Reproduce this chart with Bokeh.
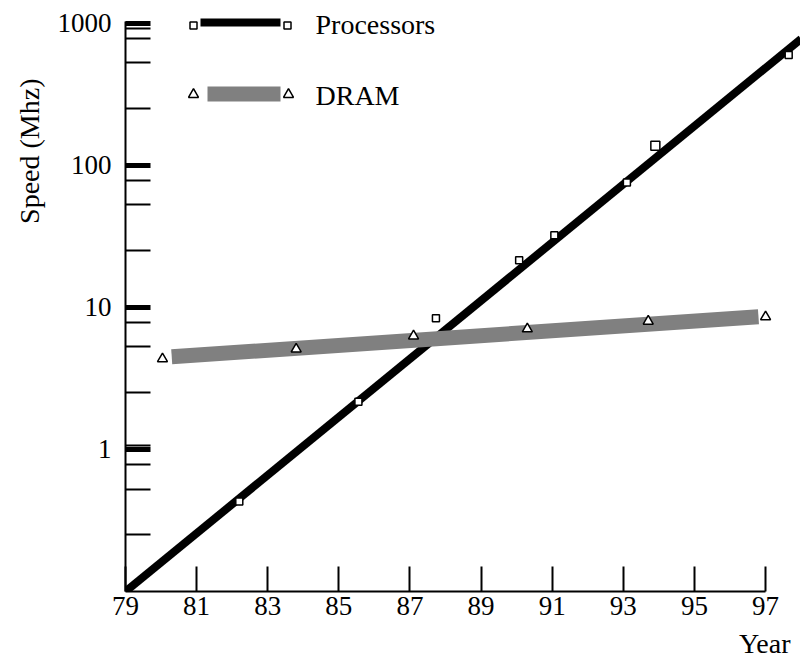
from bokeh.plotting import figure
from bokeh.models import Range1d, FixedTicker, BasicTickFormatter, LinearScale, Label, Title
from bokeh.embed import file_html
from bokeh.resources import INLINE

# ---- data ----
proc_years = [82.2, 85.55, 87.73, 90.07, 91.06, 93.1, 93.9, 97.65]
proc_speed = [0.43, 2.17, 8.4, 21.5, 32.3, 76, 138, 601]
proc_trend_years = [79.0, 98.0]
proc_trend_speed = [0.1, 780]

dram_years = [80.04, 83.8, 87.1, 90.3, 93.7, 97.0]
dram_speed = [4.35, 5.1, 6.3, 7.07, 8.0, 8.6]
dram_trend_years = [80.3, 96.8]
dram_trend_speed = [4.5, 8.6]

x_ticks = [79, 81, 83, 85, 87, 89, 91, 93, 95, 97]
y_ticks = [1, 10, 100, 1000]
y_minor = [0.25, 0.52, 0.785, 1.07, 2.5, 5.3, 7.85, 25, 53, 78.5, 250, 530, 785, 915]

FONT = "Liberation Serif"
W, H = 800, 666
ML, MB, MT = 125, 75, 0
FW, FH = W - ML, H - MB - MT

p = figure(width=W, height=H, output_backend="svg", toolbar_location=None,
           y_axis_type="log",
           x_range=Range1d(79, 79 + FW / 35.56),
           y_range=Range1d(0.1, 1452),
           min_border_left=ML, min_border_bottom=MB, min_border_top=MT,
           min_border_right=0, background_fill_color="white",
           border_fill_color="white")
p.outline_line_color = None
p.grid.visible = False
p.extra_x_ranges = {"px": Range1d(0, FW)}
p.extra_y_ranges = {"py": Range1d(0, FH)}
p.extra_x_scales = {"px": LinearScale()}
p.extra_y_scales = {"py": LinearScale()}

# axes
xa = p.xaxis[0]
xa.ticker = FixedTicker(ticks=x_ticks)
xa.formatter = BasicTickFormatter()
xa.bounds = (79, 97)
xa.axis_line_width = 2
xa.major_tick_in = 25
xa.major_tick_out = 0
xa.major_tick_line_width = 2
xa.minor_tick_line_color = None
xa.major_label_standoff = 5
xa.major_label_text_font = FONT
xa.major_label_text_font_size = "27px"
xa.major_label_text_color = "black"

ya = p.yaxis[0]
ya.ticker = FixedTicker(ticks=y_ticks, minor_ticks=y_minor)
ya.formatter = BasicTickFormatter()
ya.bounds = (0.1, 1033)
ya.axis_line_width = 2
ya.major_tick_in = 25
ya.major_tick_out = 0
ya.major_tick_line_width = 5
ya.minor_tick_in = 25
ya.minor_tick_out = 0
ya.minor_tick_line_width = 2
ya.minor_tick_line_color = "black"
ya.major_label_standoff = 14
ya.major_label_text_font = FONT
ya.major_label_text_font_size = "27px"
ya.major_label_text_color = "black"

# axis titles as side titles (positioned with align/offset)
p.add_layout(Title(text="Speed (Mhz)", align="right", offset=78, standoff=19,
                   text_font=FONT, text_font_size="28px", text_font_style="normal",
                   text_color="black"), "left")
p.add_layout(Title(text="Year", align="right", offset=10, standoff=16,
                   text_line_height=0.8,
                   text_font=FONT, text_font_size="28px", text_font_style="normal",
                   text_color="black"), "below")

# trend lines
p.line(proc_trend_years, proc_trend_speed, line_color="black", line_width=8)
p.line(dram_trend_years, dram_trend_speed, line_color="#808080", line_width=15)

# data points
sizes = [7, 7, 7, 7, 7, 7, 9, 7]
p.scatter(proc_years, proc_speed, marker="square", size=sizes,
          fill_color="white", line_color="black", line_width=1.5)
p.scatter(dram_years, dram_speed, marker="triangle", size=10,
          fill_color="white", line_color="black", line_width=1.5)

# legend (frame pixel coordinates)
p.line([75, 155], [569, 569], x_range_name="px", y_range_name="py",
       line_color="black", line_width=8)
p.scatter([68, 162], [566, 566], x_range_name="px", y_range_name="py",
          marker="square", size=7, fill_color="white", line_color="black", line_width=1.5)
p.line([82, 155], [497.5, 497.5], x_range_name="px", y_range_name="py",
       line_color="#808080", line_width=15)
p.scatter([68, 163], [497, 497], x_range_name="px", y_range_name="py",
          marker="triangle", size=10, fill_color="white", line_color="black", line_width=1.5)

def lab(x, y, t, **kw):
    p.add_layout(Label(x=x, y=y, text=t, x_range_name="px", y_range_name="py",
                       text_font=FONT, text_font_size="28px", text_color="black", **kw))

lab(190, 567, "Processors", text_baseline="middle")
lab(190, 496, "DRAM", text_baseline="middle")

open("out.html", "w").write(file_html(p, INLINE))
